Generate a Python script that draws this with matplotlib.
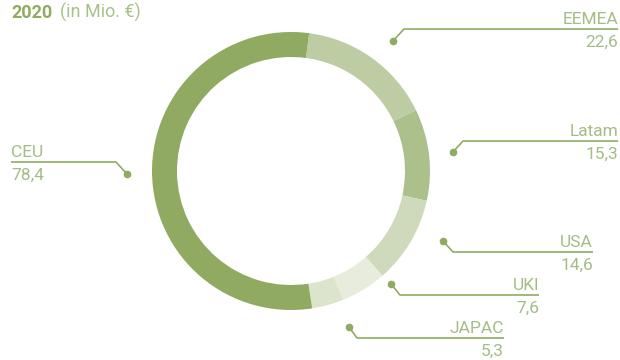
import matplotlib
matplotlib.use("Agg")
import matplotlib.pyplot as plt

# Data
regions = ["EEMEA", "Latam", "USA", "UKI", "JAPAC", "CEU"]
values = [22.6, 15.3, 14.6, 7.6, 5.3, 78.4]
value_labels = ["22,6", "15,3", "14,6", "7,6", "5,3", "78,4"]
colors = ["#bdcca3", "#abc08a", "#cfdabd", "#e7ecdd", "#dce5cc", "#90aa62"]

title_year = "2020"
title_unit = "(in Mio. €)"

# Layout of leader lines (pixel coords): dot, corner, line end, text side
leaders = {
    "EEMEA": dict(dot=(393, 41), corner=(404, 29), end=618, side="right"),
    "Latam": dict(dot=(453, 152), corner=(463, 141), end=618, side="right"),
    "USA":   dict(dot=(443, 241), corner=(453, 252), end=593, side="right"),
    "UKI":   dict(dot=(391, 284), corner=(400, 295), end=539, side="right"),
    "JAPAC": dict(dot=(349, 327), corner=(357, 338), end=504, side="right"),
    "CEU":   dict(dot=(127, 174), corner=(116, 162), end=11, side="left"),
}

line_color = "#8fab62"
text_color = "#a4bd86"
FONT = "Roboto"

W, H = 620, 360
fig = plt.figure(figsize=(W / 100, H / 100), dpi=100)

# overlay axes in pixel coords
ax = fig.add_axes([0, 0, 1, 1])
ax.set_xlim(0, W)
ax.set_ylim(H, 0)
ax.axis("off")

# donut axes
cx, cy, r = 291, 171, 139
pax = fig.add_axes([(cx - r) / W, (H - cy - r) / H, 2 * r / W, 2 * r / H])
pax.pie(values, colors=colors, startangle=82.5, counterclock=False,
        wedgeprops=dict(width=25 / r, linewidth=0))
pax.set_xlim(-1, 1)
pax.set_ylim(-1, 1)
pax.set_aspect("equal")
pax.axis("off")

fs = 12.5
for name, val in zip(regions, value_labels):
    L = leaders[name]
    dx, dy = L["dot"]
    kx, ky = L["corner"]
    ex = L["end"]
    ax.plot([dx, kx, ex], [dy, ky, ky], color=line_color, lw=1.2,
            solid_capstyle="butt")
    ax.plot([dx], [dy], "o", color=line_color, ms=4.5)
    ha = "right" if L["side"] == "right" else "left"
    ax.text(ex, ky - 5, name, ha=ha, va="baseline", fontsize=fs,
            color=text_color, family=FONT, fontweight="normal")
    ax.text(ex, ky + 18, val, ha=ha, va="baseline", fontsize=fs,
            color=text_color, family=FONT, fontweight="normal")

ax.text(11, 18, title_year, ha="left", va="baseline", fontsize=13,
        color="#8fab62", family=FONT, fontweight="bold")
ax.text(60, 18, title_unit, ha="left", va="baseline", fontsize=13,
        color="#a8c18a", family=FONT, fontweight="normal")

fig.savefig("out.png", dpi=100)
